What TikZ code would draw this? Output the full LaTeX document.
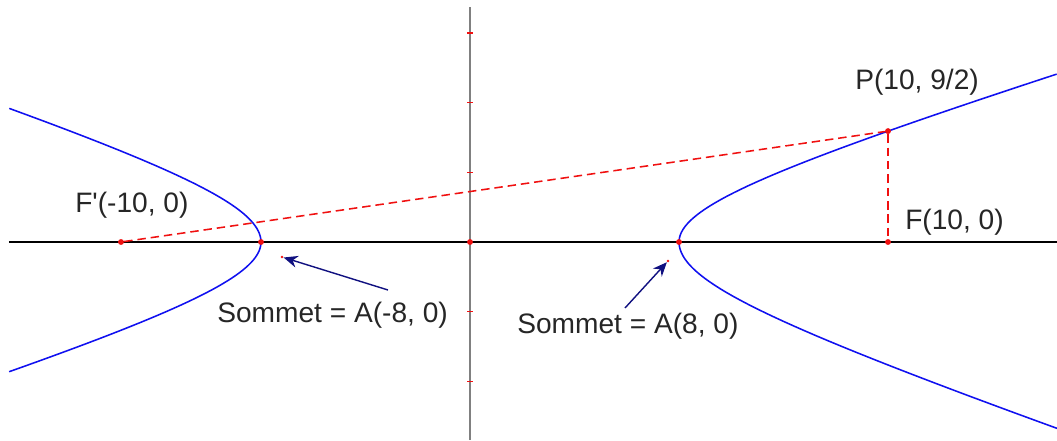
\documentclass[tikz,border=0pt]{standalone}
\usepackage{fontspec}
\setmainfont{Liberation Sans}
\usetikzlibrary{arrows.meta}

\begin{document}
\begin{tikzpicture}[x=0.025cm,y=0.025cm,font=\fontsize{20}{23}\selectfont]
\definecolor{cblue}{HTML}{1010F0}\definecolor{cred}{HTML}{F01010}
\definecolor{cnavy}{HTML}{101080}\definecolor{cgray}{HTML}{808080}
\tikzset{curve/.style={cblue,line width=1.1pt},
 guide/.style={cred,line width=1.1pt,dash pattern=on 6pt off 3.5pt},
 dot/.style={circle,fill=cred,inner sep=0pt,minimum size=4.2pt},
 tip/.style={circle,fill=cred,inner sep=0pt,minimum size=2pt},
 lbl/.style={anchor=base west,inner sep=0pt,text=black!85},
 pointer/.style={cnavy,line width=1pt,-{Stealth[length=10pt,width=8.5pt]}}}
\fill[white] (-470,-198) rectangle (587,242);
\useasboundingbox (-470,-198) rectangle (587,242);
% axes
\draw[cgray,line width=1.4pt] (0,-198) -- (0,235);
\draw[black,line width=1pt] (-461,0) -- (587,0);
\foreach \k in {-2,-1,1,2,3} \draw[cred,line width=1.1pt] (-3,69.7*\k) -- (3,69.7*\k);
% branches
\draw[curve] plot[domain=-1.428:1.428,samples=80,variable=\t] ({-209*cosh(\t)},{(\t<0 ? 66 : 68)*sinh(\t)});
\draw[curve] plot[domain=-1.693:1.693,samples=80,variable=\t] ({209*cosh(\t)},{(\t<0 ? 71 : 64)*sinh(\t)});
% points
\node[dot] (Fp) at (-349,0) {};
\node[dot] (A1) at (-209,0) {};
\node[dot] (O) at (0,0) {};
\node[dot] (A2) at (209,0) {};
\node[dot] (F) at (418,0) {};
\node[dot] (P) at (418,110.9) {};
\draw[guide] (Fp) -- (P);
\draw[guide] (P) -- (F);
% labels
\node[lbl] (lFp) at (-395,29) {F\textquotesingle(-10, 0)};
\node[lbl] (lA1) at (-253,-80) {Sommet = A(-8, 0)};
\node[lbl] (lA2) at (47,-91) {Sommet = A(8, 0)};
\node[lbl] (lP) at (385,152) {P(10, 9/2)};
\node[lbl] (lF) at (435,12) {F(10, 0)};
% pointers
\node[tip] (h1) at (-188,-15) {};
\node[tip] (h2) at (198,-19) {};
\coordinate (t1) at (-82,-48);
\coordinate (t2) at (155,-66);
\draw[pointer] (t1) -- (h1);
\draw[pointer] (t2) -- (h2);
\end{tikzpicture}
\end{document}
